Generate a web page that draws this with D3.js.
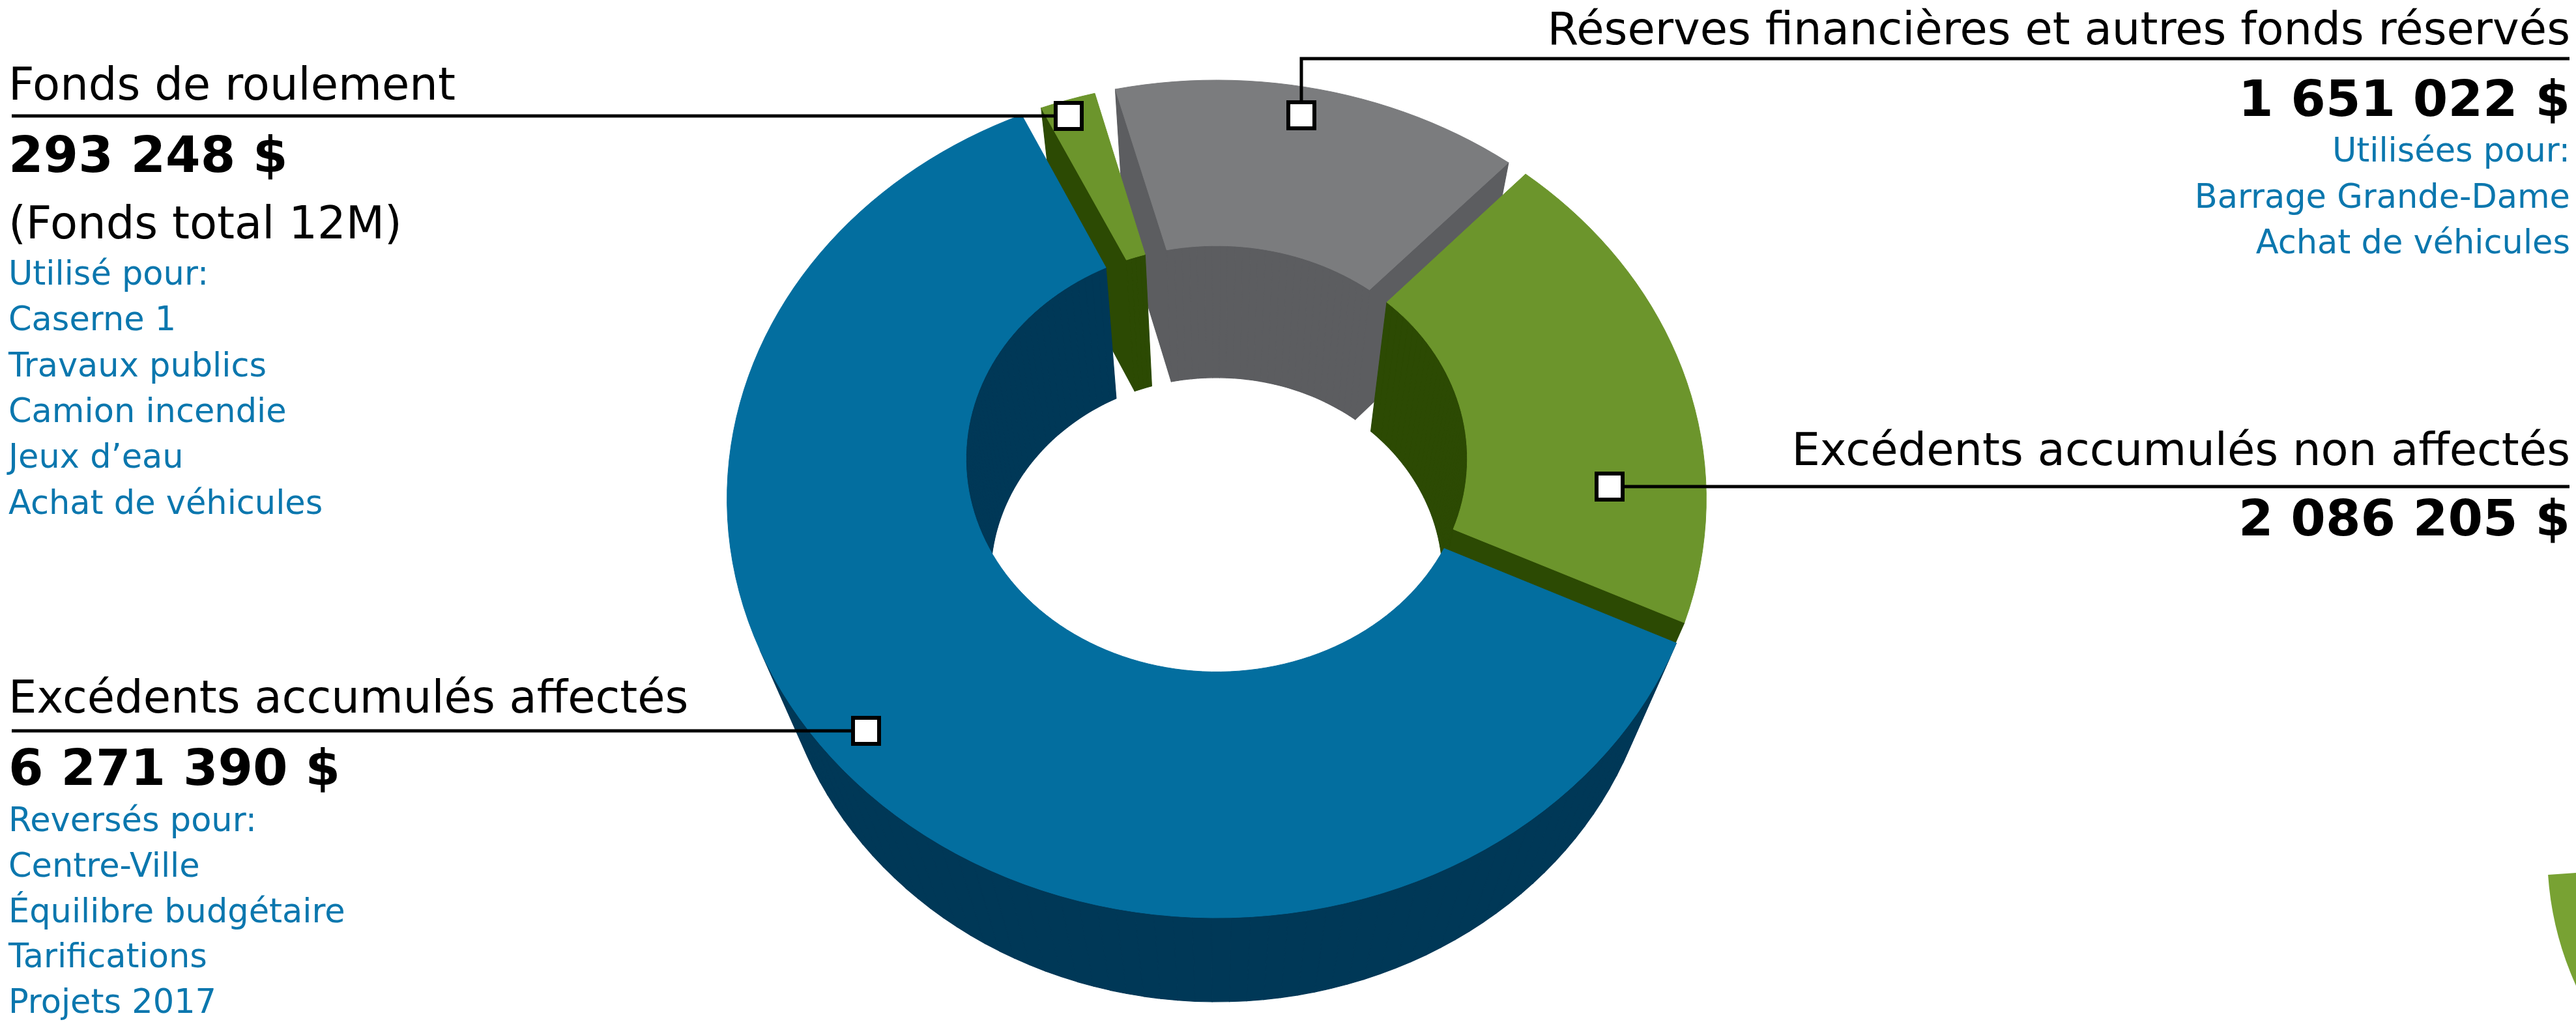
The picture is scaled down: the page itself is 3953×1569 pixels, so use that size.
<!DOCTYPE html>
<html><head><meta charset="utf-8">
<script src="https://cdn.jsdelivr.net/npm/d3@7/dist/d3.min.js"></script>
<style>body{margin:0;background:#fff}svg{display:block}</style>
</head><body>
<script>
// ---------- DATA ----------
const categories = ["Réserves financières et autres fonds réservés", "Excédents accumulés non affectés", "Excédents accumulés affectés", "Fonds de roulement"];
const values = [1651022, 2086205, 6271390, 293248];
const valueLabels = ["1 651 022 $", "2 086 205 $", "6 271 390 $", "293 248 $"];
const notesRoulement = ["Utilisé pour:", "Caserne 1", "Travaux publics", "Camion incendie", "Jeux d’eau", "Achat de véhicules"];
const notesReserves = ["Utilisées pour:", "Barrage Grande-Dame", "Achat de véhicules"];
const notesAffectes = ["Reversés pour:", "Centre-Ville", "Équilibre budgétaire", "Tarifications", "Projets 2017"];
const subNote = "(Fonds total 12M)";

// ---------- STYLE / LAYOUT ----------
const W = 3953, HH = 1569, deg = Math.PI / 180;
const topColors = ["#7b7c7e", "#6c952c", "#036e9f", "#6c952c"];
const sideColors = ["#5c5d60", "#2c4a03", "#003857", "#2c4a03"];
const blueText = "#0b77ae";
const FONT = "'DejaVu Sans', Verdana, sans-serif";
const view = {phi: 58.05 * deg, D: 1, F: 3032, X0: 1867, Y0: 682.4};
const geo = {R: 0.2457, r: 0.1266, H: 0.1278, gap: 0.012, seg: 2 * deg, start: -15 * deg};

const svg = d3.select("body").append("svg").attr("width", W).attr("height", HH)
  .style("font-family", FONT);

// ---------- 3D PROJECTION ----------
const sP = Math.sin(view.phi), cP = Math.cos(view.phi);
const cam = [0, -view.D * cP, geo.H + view.D * sP];
function project(p) {
  const [x, y, z] = p;
  const yc = y * sP + (z - geo.H) * cP;
  const depth = view.D + y * cP - (z - geo.H) * sP;
  return [view.X0 + view.F * x / depth, view.Y0 - view.F * yc / depth];
}
const line = d3.line();

const pie = d3.pie().sort(null).value(d => d)
  .startAngle(geo.start).endAngle(geo.start + 2 * Math.PI);
const arcs = pie(values);

const P = (t, rad, z) => [rad * Math.sin(t), rad * Math.cos(t), z];
const faces = [], tops = [];
arcs.forEach((a, i) => {
  const a0 = a.startAngle, a1 = a.endAngle;
  const dO = Math.asin(geo.gap / 2 / geo.R), dI = Math.asin(geo.gap / 2 / geo.r);
  const o0 = a0 + dO, o1 = a1 - dO, i0 = a0 + dI, i1 = a1 - dI;
  const n = Math.max(2, Math.ceil((o1 - o0) / geo.seg));
  const tsO = d3.range(n + 1).map(k => o0 + (o1 - o0) * k / n);
  const tsI = d3.range(n + 1).map(k => i0 + (i1 - i0) * k / n);
  tops.push({i, pts: [...tsO.map(t => P(t, geo.R, geo.H)), ...tsI.slice().reverse().map(t => P(t, geo.r, geo.H))]});
  for (let k = 0; k < n; k++) {
    let t0 = tsO[k], t1 = tsO[k + 1], tm = (t0 + t1) / 2;
    faces.push({i, normal: [Math.sin(tm), Math.cos(tm), 0],
      pts: [P(t0, geo.R, geo.H), P(t1, geo.R, geo.H), P(t1, geo.R, 0), P(t0, geo.R, 0)]});
    t0 = tsI[k]; t1 = tsI[k + 1]; tm = (t0 + t1) / 2;
    faces.push({i, normal: [-Math.sin(tm), -Math.cos(tm), 0],
      pts: [P(t0, geo.r, geo.H), P(t1, geo.r, geo.H), P(t1, geo.r, 0), P(t0, geo.r, 0)]});
  }
  faces.push({i, normal: [-Math.cos(a0), Math.sin(a0), 0],
    pts: [P(i0, geo.r, geo.H), P(o0, geo.R, geo.H), P(o0, geo.R, 0), P(i0, geo.r, 0)]});
  faces.push({i, normal: [Math.cos(a1), -Math.sin(a1), 0],
    pts: [P(i1, geo.r, geo.H), P(o1, geo.R, geo.H), P(o1, geo.R, 0), P(i1, geo.r, 0)]});
});
faces.forEach(f => {
  const c = [0, 1, 2].map(k => d3.mean(f.pts, p => p[k]));
  const v = [cam[0] - c[0], cam[1] - c[1], cam[2] - c[2]];
  f.visible = f.normal[0] * v[0] + f.normal[1] * v[1] + f.normal[2] * v[2] > 0;
  f.dist = Math.hypot(v[0], v[1], v[2]);
});
const visFaces = faces.filter(f => f.visible).sort((a, b) => b.dist - a.dist);

const gD = svg.append("g");
gD.selectAll("path.side").data(visFaces).join("path").attr("class", "side")
  .attr("d", f => line(f.pts.map(project)) + "Z")
  .attr("fill", f => sideColors[f.i]).attr("stroke", f => sideColors[f.i])
  .attr("stroke-width", 1.2).attr("stroke-linejoin", "round");
gD.selectAll("path.top").data(tops).join("path").attr("class", "top")
  .attr("d", f => line(f.pts.map(project)) + "Z")
  .attr("fill", f => topColors[f.i]).attr("stroke", f => topColors[f.i])
  .attr("stroke-width", 1).attr("stroke-linejoin", "round");

// fragment of a neighbouring chart at the bottom-right edge
svg.append("path")
  .attr("transform", "translate(4400,1310)")
  .attr("d", d3.arc()({innerRadius: 0, outerRadius: 491, startAngle: -130 * deg, endAngle: -93.85 * deg}))
  .attr("fill", "#78a233");

// ---------- LEADERS & MARKERS ----------
const ink = "#000", LW = 5;
const leaders = [
  [[18, 178], [1640, 178]],
  [[3943, 90], [1997, 90], [1997, 177]],
  [[2470, 747], [3943, 747]],
  [[18, 1122], [1329, 1122]]
];
svg.selectAll("path.leader").data(leaders).join("path").attr("class", "leader")
  .attr("d", d => line(d)).attr("fill", "none").attr("stroke", ink).attr("stroke-width", LW);
const markers = [[1640, 178], [1997, 177], [2470, 747], [1329, 1122]];
svg.selectAll("rect.marker").data(markers).join("rect").attr("class", "marker")
  .attr("x", d => d[0] - 20).attr("y", d => d[1] - 20).attr("width", 40).attr("height", 40)
  .attr("fill", "#fff").attr("stroke", ink).attr("stroke-width", 6);

// ---------- TEXT ----------
function text(x, y, str, size, opts = {}) {
  svg.append("text").attr("x", x).attr("y", y).text(str)
    .attr("font-size", size).attr("font-weight", opts.bold ? "bold" : "normal")
    .attr("fill", opts.color || "#000").attr("text-anchor", opts.anchor || "start");
}
const LX = 13, RX = 3944, TS = 68.8, VS = 77, NS = 51;
// Fonds de roulement
text(LX, 153, categories[3], TS);
text(LX, 264, valueLabels[3], VS, {bold: true});
text(LX, 366, subNote, TS);
notesRoulement.forEach((t, k) => text(LX, 437 + k * 70.3, t, NS, {color: blueText}));
// Excédents accumulés affectés
text(LX, 1094, categories[2], TS);
text(LX, 1205, valueLabels[2], VS, {bold: true});
notesAffectes.forEach((t, k) => text(LX, 1276 + k * 69.8, t, NS, {color: blueText}));
// Réserves
text(RX, 68, categories[0], TS, {anchor: "end"});
text(RX, 178, valueLabels[0], VS, {bold: true, anchor: "end"});
notesReserves.forEach((t, k) => text(RX, 248 + k * 70.5, t, NS, {color: blueText, anchor: "end"}));
// Non affectés
text(RX, 714, categories[1], TS, {anchor: "end"});
text(RX, 822, valueLabels[1], VS, {bold: true, anchor: "end"});
</script>
</body></html>
